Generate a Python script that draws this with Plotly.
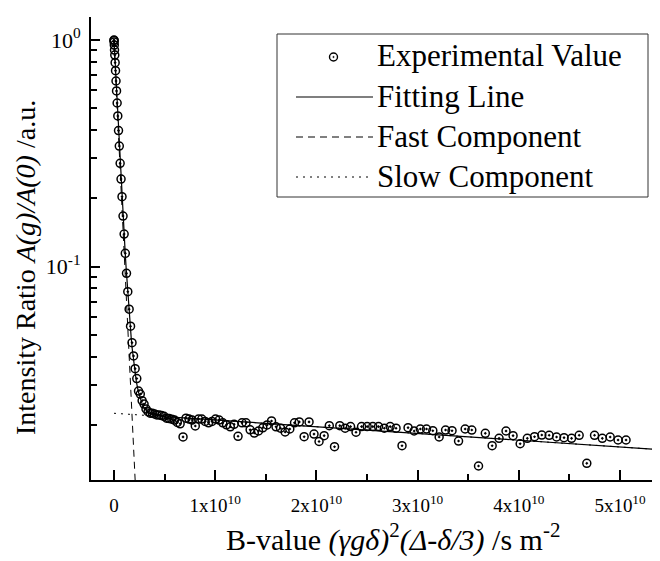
import plotly.graph_objects as go

# ---- data ----
# B-values in units of 1e10 s m^-2
b_e10 = [0.0000, 0.0003, 0.0012, 0.0028, 0.0049, 0.0077, 0.0111, 0.0151, 0.0198, 0.0250,
         0.0309, 0.0374, 0.0445, 0.0522, 0.0605, 0.0695, 0.0791, 0.0892, 0.1001, 0.1115,
         0.1235, 0.1362, 0.1495, 0.1634, 0.1779, 0.1930, 0.2087, 0.2251, 0.2421, 0.2597,
         0.2779, 0.2968, 0.3162, 0.3363, 0.3570, 0.3783, 0.4002, 0.4227, 0.4459, 0.4697,
         0.4941, 0.5191, 0.5447, 0.5710, 0.5978, 0.6253, 0.6534, 0.6821, 0.7115, 0.7414,
         0.7720, 0.8032, 0.8350, 0.8674, 0.9005, 0.9341, 0.9684, 1.0033, 1.0388, 1.0749,
         1.1117, 1.1490, 1.1870, 1.2256, 1.2648, 1.3047, 1.3451, 1.3862, 1.4279, 1.4702,
         1.5131, 1.5567, 1.6008, 1.6456, 1.6910, 1.7370, 1.7836, 1.8309, 1.8787, 1.9272,
         1.9763, 2.0260, 2.0764, 2.1273, 2.1789, 2.2311, 2.2839, 2.3373, 2.3913, 2.4460,
         2.5013, 2.5572, 2.6137, 2.6708, 2.7286, 2.7869, 2.8459, 2.9055, 2.9657, 3.0266,
         3.0880, 3.1501, 3.2128, 3.2761, 3.3400, 3.4045, 3.4697, 3.5355, 3.6018, 3.6689,
         3.7365, 3.8047, 3.8736, 3.9431, 4.0132, 4.0839, 4.1552, 4.2272, 4.2997, 4.3729,
         4.4467, 4.5211, 4.5962, 4.6718, 4.7481, 4.8250, 4.9025, 4.9806, 5.0594]

ratio = [1.000, 0.995, 0.980, 0.950, 0.903, 0.858, 0.794, 0.732, 0.659, 0.596,
         0.527, 0.462, 0.398, 0.340, 0.2855, 0.2433, 0.2033, 0.167, 0.1391, 0.1143,
         0.0933, 0.0774, 0.0648, 0.0545, 0.0461, 0.0403, 0.0354, 0.0320, 0.0282, 0.02735,
         0.02555, 0.0247, 0.0235, 0.02286, 0.0225, 0.0225, 0.02233, 0.0221, 0.0221, 0.02198,
         0.0218, 0.0214, 0.0213, 0.02118, 0.0210, 0.0205, 0.0202, 0.01769, 0.0214, 0.0212,
         0.0210, 0.01977, 0.0212, 0.0212, 0.0207, 0.0204, 0.0207, 0.0212, 0.0210, 0.0204,
         0.0200, 0.0196, 0.0201, 0.0178, 0.0204, 0.0204, 0.0190, 0.0184, 0.01878, 0.0194,
         0.01997, 0.0208, 0.0196, 0.01932, 0.0186, 0.01917, 0.0204, 0.0206, 0.01772, 0.0206,
         0.0182, 0.01688, 0.01791, 0.01983, 0.01601, 0.01983, 0.01932, 0.01964, 0.01855, 0.01964,
         0.01964, 0.01964, 0.01964, 0.01932, 0.01964, 0.01932, 0.01617, 0.01943, 0.01878, 0.01917,
         0.01917, 0.01884, 0.01767, 0.01897, 0.01884, 0.01696, 0.01917, 0.01897, 0.01316, 0.01834,
         0.01617, 0.01743, 0.01878, 0.01791, 0.0165, 0.01743, 0.01772, 0.01803, 0.01798, 0.01767,
         0.01755, 0.01743, 0.01798, 0.01352, 0.01798, 0.01743, 0.01767, 0.01714, 0.01714]

fit_b_e10 = [0.00, 0.01, 0.02, 0.03, 0.04, 0.05, 0.06, 0.07, 0.08, 0.09, 0.10, 0.11, 0.12,
             0.13, 0.14, 0.15, 0.16, 0.17, 0.18, 0.19, 0.20, 0.22, 0.24, 0.26, 0.28, 0.30,
             0.33, 0.36, 0.40, 0.50, 1.0, 2.0, 3.0, 4.0, 5.0, 5.5]
fit_ratio = [1.000, 0.8125, 0.6609, 0.5384, 0.4395, 0.3595, 0.2948, 0.2426, 0.2004, 0.1661,
             0.1385, 0.1162, 0.09817, 0.08361, 0.07182, 0.06231, 0.0546, 0.04839, 0.04335,
             0.03928, 0.03599, 0.03117, 0.02801, 0.02594, 0.02457, 0.02367, 0.02286, 0.0224,
             0.02207, 0.02175, 0.0210, 0.01961, 0.01831, 0.0171, 0.01597, 0.01543]

fast_b_e10 = [0.0, 0.25]
fast_ratio = [0.9775, 0.00476]
slow_b_e10 = [0.0, 5.5]
slow_ratio = [0.02249, 0.01543]

series_names = ["Experimental Value", "Fitting Line", "Fast Component", "Slow Component"]

x_tick_vals_e10 = [0, 1, 2, 3, 4, 5]
x_tick_text = ["0", "1x10<sup>10</sup>", "2x10<sup>10</sup>", "3x10<sup>10</sup>",
               "4x10<sup>10</sup>", "5x10<sup>10</sup>"]
y_tick_vals = [1, 0.1]
y_tick_text = ["10<sup>0</sup>", "10<sup>-1</sup>"]

E10 = 1e10
to_b = lambda arr: [v * E10 for v in arr]

FONT = "Liberation Serif, Times New Roman, serif"
FAST_DASH = "7px,5px"
SLOW_DASH = "2px,5px"

fig = go.Figure()
fig.add_trace(go.Scatter(
    x=to_b(b_e10), y=ratio, mode="markers", name=series_names[0], showlegend=False,
    marker=dict(symbol="circle-open-dot", size=8, color="black",
                line=dict(color="black", width=1.5))))
fig.add_trace(go.Scatter(
    x=to_b(fit_b_e10), y=fit_ratio, mode="lines", name=series_names[1], showlegend=False,
    line=dict(color="black", width=1.2)))
fig.add_trace(go.Scatter(
    x=to_b(fast_b_e10), y=fast_ratio, mode="lines", name=series_names[2], showlegend=False,
    line=dict(color="black", width=1, dash=FAST_DASH)))
fig.add_trace(go.Scatter(
    x=to_b(slow_b_e10), y=slow_ratio, mode="lines", name=series_names[3], showlegend=False,
    line=dict(color="black", width=1, dash=SLOW_DASH)))

xr = [-0.2273e10, 5.395e10]
yr = [-1.9426, 0.1015]
minor_y = [0.2, 0.3, 0.4, 0.5, 0.6, 0.7, 0.8, 0.9,
           0.02, 0.03, 0.04, 0.05, 0.06, 0.07, 0.08, 0.09]

# page body has an 8px margin: plot area spans 91..660 x 17..480 on screen
PL, PT, PW, PH = 91, 17, 569, 463
px = lambda X: (X - PL) / PW
py = lambda Y: 1 - (Y - PT) / PH

# ---- legend box drawn as in the reference (box, samples, labels) ----
shapes = [dict(type="rect", xref="paper", yref="paper", x0=px(277), x1=px(648),
               y0=py(34), y1=py(197), line=dict(color="#333", width=1),
               fillcolor="white", layer="above")]
row_y = [57, 97, 137, 177]
shapes.append(dict(type="circle", xref="paper", yref="paper", x0=px(329.5), x1=px(337.5),
                   y0=py(row_y[0] - 4), y1=py(row_y[0] + 4),
                   line=dict(color="black", width=1.4), layer="above"))
shapes.append(dict(type="circle", xref="paper", yref="paper", x0=px(332.8), x1=px(334.2),
                   y0=py(row_y[0] - 0.7), y1=py(row_y[0] + 0.7),
                   line=dict(color="black", width=0.5), fillcolor="black", layer="above"))
for ry, dash in zip(row_y[1:], ["solid", FAST_DASH, SLOW_DASH]):
    shapes.append(dict(type="line", xref="paper", yref="paper", x0=px(296), x1=px(373),
                       y0=py(ry), y1=py(ry), line=dict(color="black", width=1.2 if dash == "solid" else 1,
                                                      dash=dash), layer="above"))

annotations = []
for ry, name in zip(row_y, series_names):
    annotations.append(dict(text=name, xref="paper", yref="paper", x=px(375), y=py(ry - 1),
                            xanchor="left", yanchor="middle", showarrow=False,
                            font=dict(family=FONT, size=31, color="black")))
annotations += [
    dict(text="Intensity Ratio <i>A(g)/A(0)</i> /a.u.", textangle=-90,
         xref="paper", yref="paper", x=px(25), y=py(268),
         xanchor="center", yanchor="middle", showarrow=False,
         font=dict(family=FONT, size=28, color="black")),
    dict(text="B-value <i>(γgδ)</i><sup>2</sup><i>(Δ-δ/3)</i> /s m<sup>-2</sup>",
         xref="paper", yref="paper", x=px(393), y=py(537),
         xanchor="center", yanchor="middle", showarrow=False,
         font=dict(family=FONT, size=30, color="black")),
]

W, H = 652, 553
fig.update_layout(
    width=W, height=H,
    margin=dict(l=83, r=0, t=9, b=81),
    paper_bgcolor="white", plot_bgcolor="white",
    font=dict(family=FONT, color="black"),
    showlegend=False,
    xaxis=dict(range=xr, showline=True, linecolor="black", linewidth=2, mirror=False,
               ticks="inside", ticklen=10, tickwidth=1.5, tickcolor="black",
               tickvals=to_b(x_tick_vals_e10), ticktext=x_tick_text,
               tickfont=dict(family=FONT, size=19), ticklabelstandoff=7,
               minor=dict(tickvals=to_b([0.5, 1.5, 2.5, 3.5, 4.5]), ticks="inside",
                          ticklen=6, tickwidth=1.5, tickcolor="black"),
               showgrid=False, zeroline=False),
    xaxis2=dict(range=xr, overlaying="x", side="top", showline=True, linecolor="black",
                linewidth=2, ticks="inside", ticklen=9, tickwidth=1.5, tickcolor="black",
                tickmode="linear", tick0=0, dtick=0.5e10, showticklabels=False,
                showgrid=False, zeroline=False),
    yaxis=dict(type="log", range=yr, showline=True, linecolor="black", linewidth=2,
               mirror=False, ticks="inside", ticklen=9, tickwidth=1.5, tickcolor="black",
               tickvals=y_tick_vals, ticktext=y_tick_text,
               tickfont=dict(family=FONT, size=22), ticklabelstandoff=4,
               minor=dict(tickvals=minor_y, ticks="inside", ticklen=5.5, tickwidth=1.5,
                          tickcolor="black"),
               showgrid=False, zeroline=False),
    yaxis2=dict(type="log", range=yr, overlaying="y", side="right", showline=False,
                ticks="inside", ticklen=9, tickwidth=1.5, tickcolor="black",
                tickvals=y_tick_vals, showticklabels=False,
                minor=dict(tickvals=minor_y, ticks="inside", ticklen=5.5, tickwidth=1.5,
                           tickcolor="black"),
                showgrid=False, zeroline=False),
    shapes=shapes,
    annotations=annotations,
)

fig.write_html("out.html")
